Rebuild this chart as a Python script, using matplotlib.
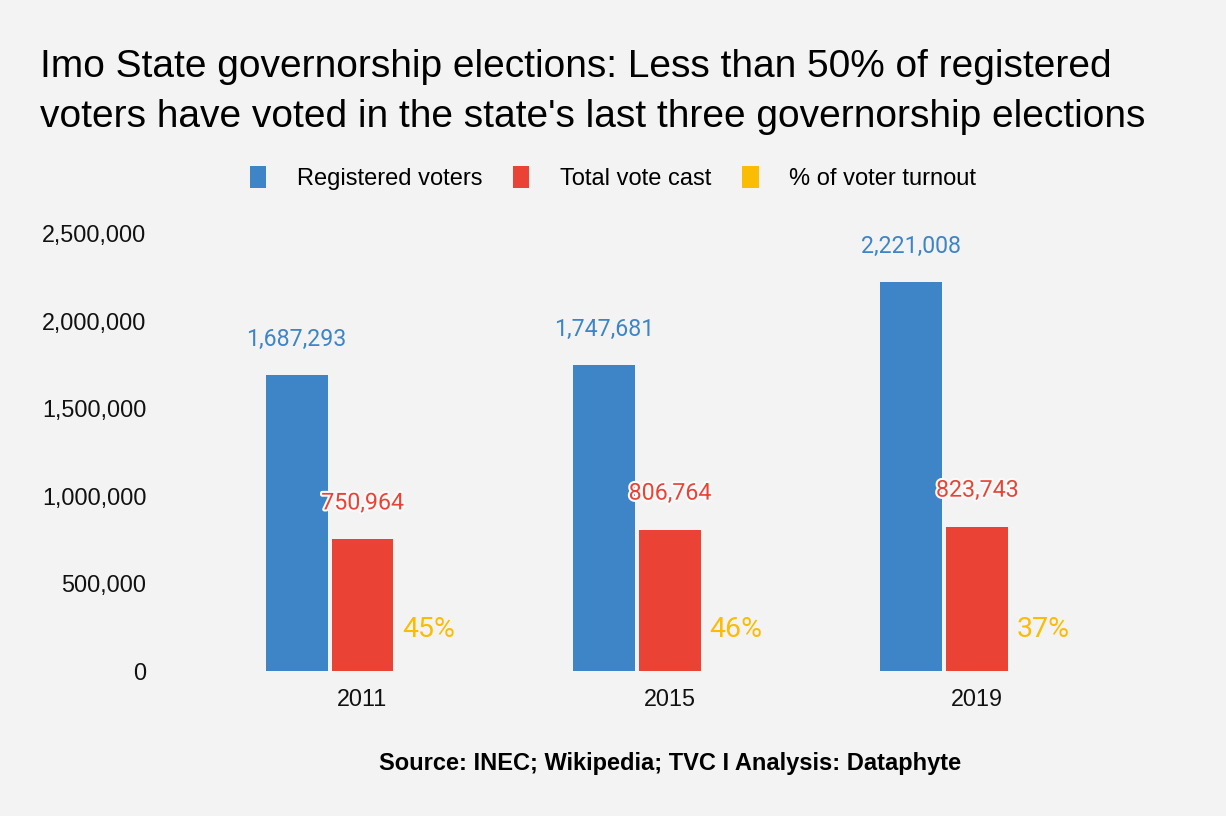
import numpy as np
import matplotlib
matplotlib.use("Agg")
import matplotlib.pyplot as plt
import matplotlib.patheffects as pe
from matplotlib.ticker import FuncFormatter

years = ["2011", "2015", "2019"]
registered = [1687293, 1747681, 2221008]
votes_cast = [750964, 806764, 823743]
turnout = [0.45, 0.46, 0.37]
series_names = ["Registered voters", "Total vote cast", "% of voter turnout"]
title_lines = ["Imo State governorship elections: Less than 50% of registered",
               "voters have voted in the state's last three governorship elections"]

bg = "#f3f3f3"
colors = ["#3d85c6", "#ea4335", "#fbbc04"]
W, H = 1226, 816

fig = plt.figure(figsize=(W / 100, H / 100), dpi=100, facecolor=bg)
ax = fig.add_axes([0.1703, 0.1777, 0.7522, 0.5368], facecolor=bg)

x = np.arange(len(years))
slot = 0.2146
width = 0.2016
all_vals = [registered, votes_cast, turnout]
fmt = [lambda v: f"{v:,}", lambda v: f"{v:,}", lambda v: f"{v:.0%}"]
offsets = [24, 25, 28]
lab_size = [16.7, 16.7, 20.5]

for i, vals in enumerate(all_vals):
    pos = x + (i - 1) * slot
    ax.bar(pos, vals, width=width, color=colors[i], label=series_names[i])
    for p, v in zip(pos, vals):
        ax.annotate(fmt[i](v), (p, v), xytext=(0, offsets[i]), textcoords="offset pixels",
                    ha="center", va="bottom", fontsize=lab_size[i], family="Roboto",
                    color=colors[i],
                    path_effects=[pe.withStroke(linewidth=3, foreground="#fafafa")] if i == 1 else None)

ax.set_xlim(-0.5, 2.5)
ax.set_ylim(0, 2500000)
ax.set_yticks(np.arange(0, 2500001, 500000))
ax.yaxis.set_major_formatter(FuncFormatter(lambda v, _: f"{int(v):,}"))
ax.set_xticks(x)
ax.set_xticklabels(years)
for s in ax.spines.values():
    s.set_visible(False)
ax.tick_params(length=0, labelsize=16.8, labelcolor="#111111")
ax.tick_params(axis="y", pad=45)
ax.tick_params(axis="x", pad=12)
for t in ax.get_xticklabels() + ax.get_yticklabels():
    t.set_family("Liberation Sans")

ax.set_xlabel("Source: INEC; Wikipedia; TVC I Analysis: Dataphyte", fontsize=17,
              fontweight="bold", family="Liberation Sans", labelpad=30)

for k, line in enumerate(title_lines):
    fig.text(40 / W, 1 - (77 + 50 * k) / H, line, ha="left", va="baseline",
             fontsize=28, family="Liberation Sans", color="black")

leg = fig.legend(loc="center", bbox_to_anchor=(0.5, 1 - 178 / H), ncol=3, frameon=False,
                 prop={"family": "Liberation Sans", "size": 17}, handlelength=0.7,
                 handleheight=1.1, handletextpad=1.3, columnspacing=1.3)

fig.savefig("out.png", dpi=100, facecolor=bg)
